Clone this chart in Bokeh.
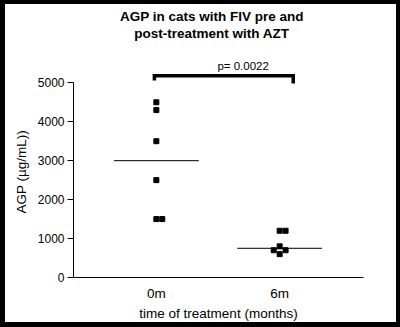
from bokeh.plotting import figure
from bokeh.models import Range1d, FixedTicker, Label, ColumnDataSource, Title
from bokeh.embed import file_html
from bokeh.resources import INLINE

# ---- data ----
groups = ["0m", "6m"]
group_pos = [1, 2]
values_0m = [4500, 4300, 3500, 2500, 1500, 1500]
values_6m = [1200, 1200, 800, 700, 700, 600]
center_lines = [3000, 750]
p_text = "p= 0.0022"
bracket_y = 5180
bracket_ends = [5060, 4980]
y_ticks = [0, 1000, 2000, 3000, 4000, 5000]
title_lines = ["AGP in cats with FIV pre and", "post-treatment with AZT"]
x_label = "time of treatment (months)"
y_label = "AGP (\u00b5g/mL))"

FONT = "Liberation Sans"
W, H = 391, 318   # plus a 4/4/5/5 px black CSS border -> 400x327

p = figure(width=W, height=H, output_backend="svg", toolbar_location=None,
           x_range=Range1d(0.328, 2.68), y_range=Range1d(0, 7011),
           min_border_left=64, min_border_right=42, min_border_top=0,
           min_border_bottom=54)
p.styles = {"border-style": "solid", "border-color": "black",
            "border-width": "4px 4px 5px 5px", "box-sizing": "content-box"}
p.background_fill_color = "white"
p.border_fill_color = "white"
p.outline_line_color = None
p.grid.visible = False

# beeswarm-like placement of overlapping points
d = 0.048           # horizontal step (data units)
thr_x = 0.04
thr_y = 130
xs, ys = [], []
for gx, vals in zip(group_pos, [values_0m, values_6m]):
    placed = []
    for v in vals:
        for k in [0, 1, -1, 2, -2, 3, -3]:
            cx = gx + k * d
            if all(not (abs(cx - px) < thr_x and abs(v - py) < thr_y) for px, py in placed):
                placed.append((cx, v))
                break
    for cx, v in placed:
        xs.append(cx)
        ys.append(v)

src = ColumnDataSource(dict(x=xs, y=ys))
p.scatter("x", "y", source=src, marker="square", size=5, color="black")

# center lines
half = 0.344
p.segment(x0=[g - half for g in group_pos], x1=[g + half for g in group_pos],
          y0=center_lines, y1=center_lines, line_color="black", line_width=1)

# significance bracket
bx0 = group_pos[0] - 0.016
bx1 = group_pos[1] + 0.11
p.line(x=[bx0, bx0, bx1, bx1], y=[bracket_ends[0], bracket_y, bracket_y, bracket_ends[1]],
       line_color="black", line_width=3.5, line_join="miter")
p.add_layout(Label(x=(group_pos[0] + group_pos[1]) / 2 + 0.204, y=5420, text=p_text,
                   text_align="center", text_baseline="middle",
                   text_font=FONT, text_font_size="11.5px", text_color="black"))

# two-line title inside the (tall) frame, above the axis bounds
for t, ty in zip(title_lines, [6703, 6266]):
    p.add_layout(Label(x=1.45, y=ty, text=t, text_align="center", text_baseline="middle",
                       text_font=FONT, text_font_size="13.5px", text_font_style="bold",
                       text_color="black"))

# axes
p.yaxis.ticker = FixedTicker(ticks=y_ticks)
p.yaxis.bounds = (y_ticks[0], y_ticks[-1])
p.xaxis.ticker = FixedTicker(ticks=group_pos)
p.xaxis.major_label_overrides = {gp: g for gp, g in zip(group_pos, groups)}
p.xaxis.axis_label = x_label
for ax in [p.xaxis[0], p.yaxis[0]]:
    ax.axis_line_color = "black"
    ax.axis_line_width = 1
    ax.major_tick_line_color = "black"
    ax.minor_tick_line_color = None
    ax.major_label_text_font = FONT
    ax.major_label_text_color = "black"
    ax.axis_label_text_font = FONT
    ax.axis_label_text_font_style = "normal"
    ax.axis_label_text_color = "black"
    ax.axis_label_text_font_size = "13.5px"
p.yaxis.major_label_text_font_size = "12px"
p.xaxis.major_label_text_font_size = "13.5px"
p.yaxis.major_tick_out = 6
p.yaxis.major_tick_in = 0
p.yaxis.major_label_standoff = 3
p.xaxis.major_tick_out = 0
p.xaxis.major_tick_in = 0
p.xaxis.major_label_standoff = 8
p.xaxis.axis_label_standoff = 2

# y-axis label as a side title, placed along the 0..5600 span
p.add_layout(Title(text=y_label, align="left", offset=64, standoff=12,
                   text_font=FONT, text_font_size="13.5px", text_font_style="normal",
                   text_color="black"), "left")

open("out.html", "w").write(file_html(p, INLINE))
